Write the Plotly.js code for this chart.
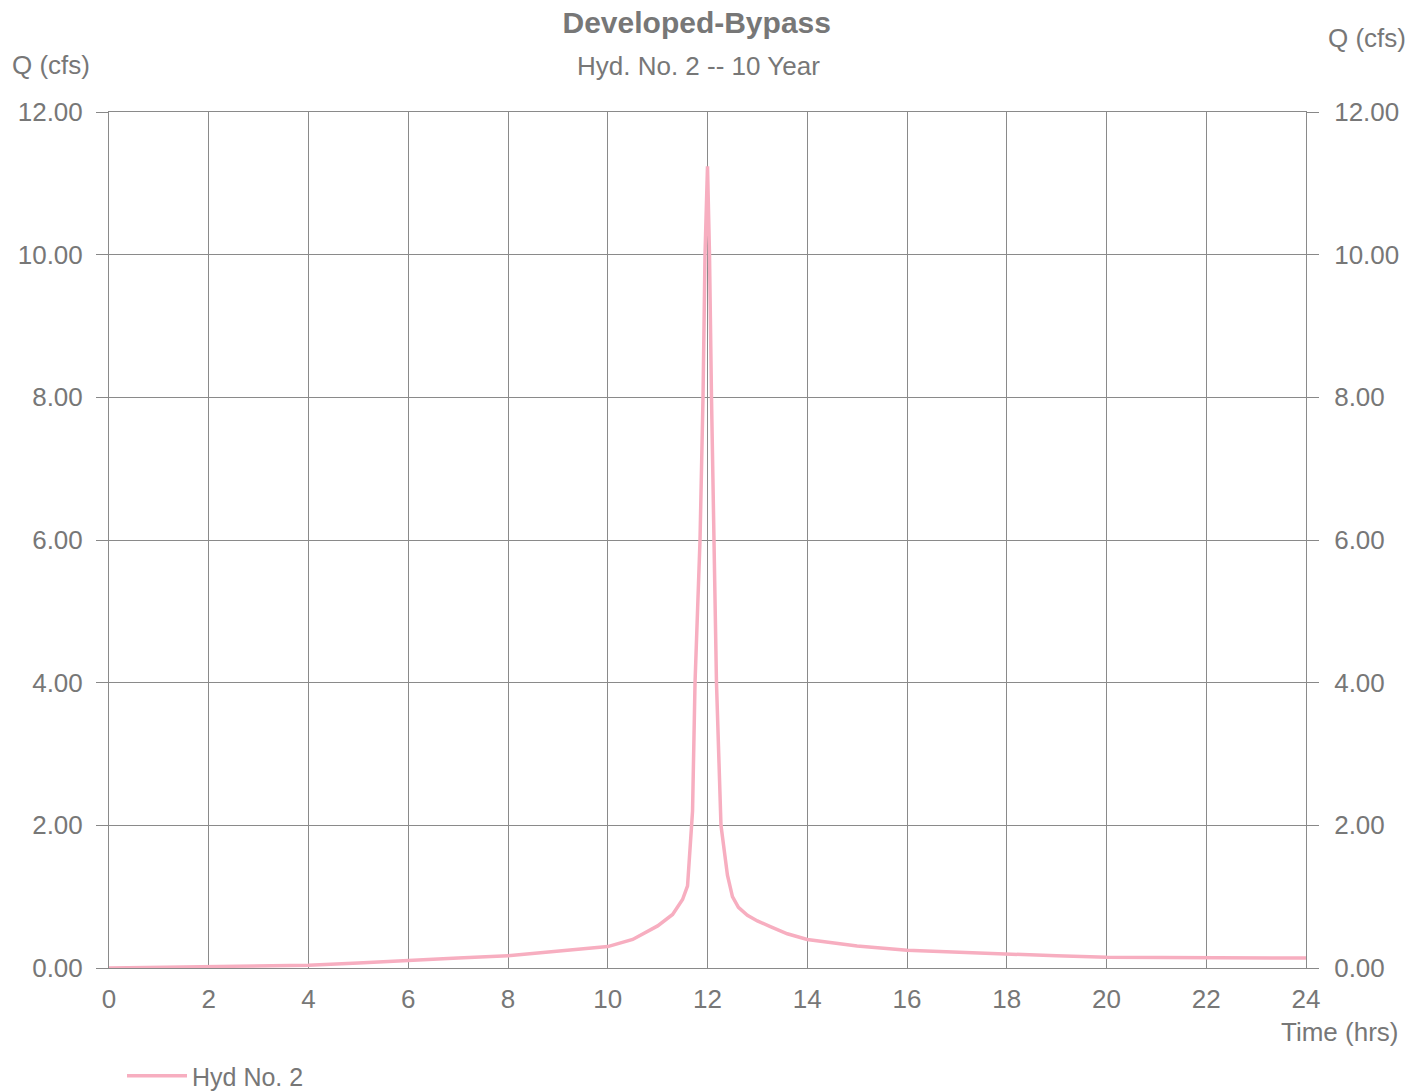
<!DOCTYPE html>
<html>
<head>
<meta charset="utf-8">
<script src="https://cdn.plot.ly/plotly-3.0.1.min.js"></script>
<style>html,body{margin:0;padding:0;background:#fff;}#chart{width:1419px;height:1091px;}</style>
</head>
<body>
<div id="chart"></div>
<script>
// Time (hrs)
var timeHrs = [0, 1, 2, 3, 4, 5, 6, 7, 8, 9, 10, 10.5, 11, 11.3, 11.5, 11.6, 11.65, 11.7, 11.75, 11.85, 11.91, 11.95, 12.0, 12.04, 12.08, 12.13, 12.18, 12.27, 12.4, 12.5, 12.62, 12.8, 13.0, 13.26, 13.6, 14, 15, 16, 17, 18, 19, 20, 21, 22, 23, 24];
// Q (cfs) for Hyd No. 2
var flowCfs = [0, 0.01, 0.02, 0.03, 0.04, 0.07, 0.11, 0.14, 0.17, 0.23, 0.30, 0.40, 0.59, 0.75, 0.96, 1.15, 1.6, 2.2, 4.0, 6.0, 8.0, 10.0, 11.24, 10.0, 8.0, 6.0, 4.0, 2.0, 1.3, 1.0, 0.85, 0.74, 0.66, 0.58, 0.48, 0.40, 0.31, 0.25, 0.22, 0.20, 0.17, 0.15, 0.15, 0.14, 0.14, 0.14];

var xTicks = [0, 2, 4, 6, 8, 10, 12, 14, 16, 18, 20, 22, 24];
var yTicks = [0, 2, 4, 6, 8, 10, 12];
var yTickLabels = ["0.00", "2.00", "4.00", "6.00", "8.00", "10.00", "12.00"];

var grey = "#777777";
var fontFam = "Liberation Sans, Arial, sans-serif";
var fs = 26;

var traces = [
  {
    x: timeHrs, y: flowCfs, type: "scatter", mode: "lines",
    name: "Hyd No. 2",
    line: {color: "#f7aec0", width: 3.5},
    hoverinfo: "x+y"
  },
  {
    x: timeHrs, y: flowCfs, type: "scatter", mode: "lines",
    yaxis: "y2", showlegend: false, opacity: 0, hoverinfo: "skip",
    line: {color: "#f7aec0", width: 1}
  }
];

var axisCommon = {
  range: [0, 12],
  tickvals: yTicks,
  ticktext: yTickLabels,
  ticks: "outside",
  ticklen: 12,
  tickcolor: "#888888",
  tickwidth: 1,
  tickfont: {family: fontFam, size: fs, color: grey},
  zeroline: false,
  fixedrange: true,
  automargin: false
};

var layout = {
  width: 1419, height: 1091,
  paper_bgcolor: "#ffffff", plot_bgcolor: "#ffffff",
  margin: {l: 109, r: 113, t: 112, b: 123, autoexpand: false},
  font: {family: fontFam, color: grey},
  title: {
    text: "<b>Developed-Bypass</b>",
    font: {family: fontFam, size: 30, color: grey},
    x: 0.491, xanchor: "center",
    y: 1 - 22 / 1091, yanchor: "middle", yref: "container",
    automargin: false
  },
  xaxis: {
    range: [0, 24],
    tickvals: xTicks,
    ticks: "",
    showgrid: true, gridcolor: "#8a8a8a", gridwidth: 1,
    showline: true, linecolor: "#8a8a8a", linewidth: 1, mirror: true,
    tickfont: {family: fontFam, size: fs, color: grey},
    ticklabelstandoff: 8,
    zeroline: false, fixedrange: true, automargin: false
  },
  yaxis: Object.assign({}, axisCommon, {
    side: "left",
    showgrid: true, gridcolor: "#8a8a8a", gridwidth: 1,
    showline: true, linecolor: "#8a8a8a", linewidth: 1,
    ticklabelstandoff: 8
  }),
  yaxis2: Object.assign({}, axisCommon, {
    side: "right", overlaying: "y",
    showgrid: false, showline: true, linecolor: "#8a8a8a", linewidth: 1,
    ticklabelstandoff: 10
  }),
  showlegend: true,
  legend: {
    orientation: "h",
    xref: "container", yref: "container",
    x: 122 / 1419, xanchor: "left",
    y: (1091 - 1076) / 1091, yanchor: "middle",
    itemwidth: 60,
    font: {family: fontFam, size: 25, color: grey},
    bgcolor: "rgba(0,0,0,0)"
  },
  annotations: [
    {
      text: "Hyd. No. 2 -- 10 Year", xref: "paper", yref: "paper",
      x: (698 - 109) / 1197, y: 1 + (112 - 66) / 856,
      xanchor: "center", yanchor: "middle", showarrow: false,
      font: {family: fontFam, size: fs, color: grey}
    },
    {
      text: "Q (cfs)", xref: "paper", yref: "paper",
      x: (10 - 109) / 1197, y: 1 + (112 - 65) / 856,
      xanchor: "left", yanchor: "middle", showarrow: false,
      font: {family: fontFam, size: fs, color: grey}
    },
    {
      text: "Q (cfs)", xref: "paper", yref: "paper",
      x: (1408 - 109) / 1197, y: 1 + (112 - 38) / 856,
      xanchor: "right", yanchor: "middle", showarrow: false,
      font: {family: fontFam, size: fs, color: grey}
    },
    {
      text: "Time (hrs)", xref: "paper", yref: "paper",
      x: (1400 - 109) / 1197, y: -(1032 - 968) / 856,
      xanchor: "right", yanchor: "middle", showarrow: false,
      font: {family: fontFam, size: fs, color: grey}
    }
  ]
};

Plotly.newPlot("chart", traces, layout, {displayModeBar: false, responsive: false});
</script>
</body>
</html>
